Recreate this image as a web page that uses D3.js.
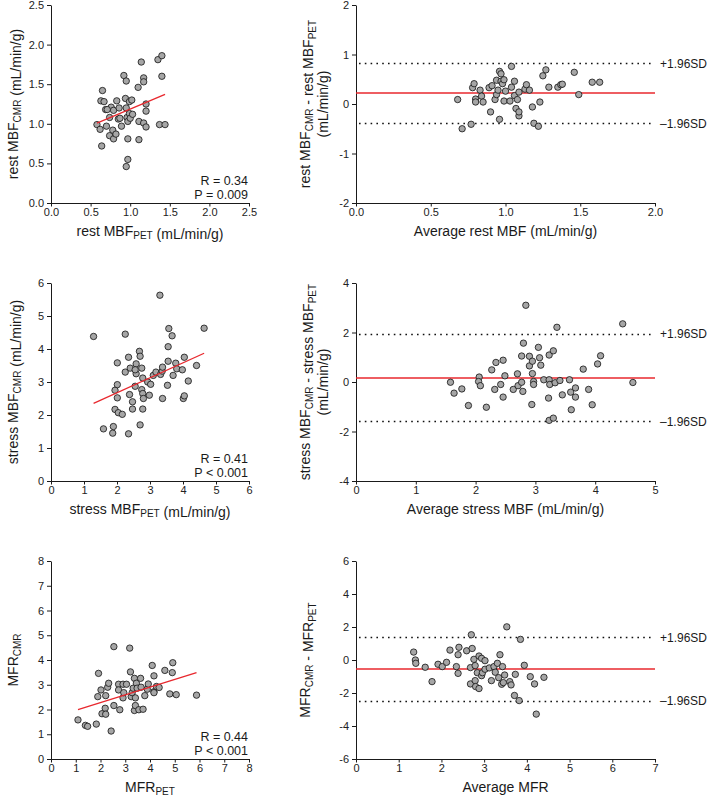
<!DOCTYPE html>
<html>
<head>
<meta charset="utf-8">
<script src="https://cdn.jsdelivr.net/npm/d3@7"></script>
<style>
  html, body { margin: 0; padding: 0; background: #fff; }
  svg { display: block; font-family: "Liberation Sans", Arial, Helvetica, sans-serif; }
</style>
</head>
<body>
<svg id="chart" width="708" height="803"></svg>
<script>
// ---------------- DATA ----------------
// Panel A: rest MBF PET (x) vs CMR (y)
const restPET = [0.58,0.62,0.64,0.65,0.63,0.67,0.69,0.70,0.74,0.74,0.76,0.78,0.79,0.79,0.82,0.83,0.85,0.86,0.87,0.89,0.92,0.94,0.95,0.95,0.96,0.95,0.97,0.97,0.99,0.99,1.02,0.97,1.00,1.03,1.10,1.11,1.11,1.14,1.17,1.17,1.17,1.20,1.20,1.20,1.35,1.40,1.40,1.37,1.44,0.71];
const restCMR = [0.99,0.93,0.72,1.42,1.29,1.28,1.18,0.97,0.85,1.08,1.21,0.92,0.81,1.17,0.87,1.29,1.06,1.20,1.07,0.97,1.61,1.32,1.54,1.20,1.08,0.46,0.55,0.81,1.13,1.28,1.30,1.03,1.07,1.12,1.46,1.03,0.80,1.78,1.58,1.53,1.01,0.96,1.25,1.16,1.81,1.86,1.60,0.99,0.99,1.18];
const restFit = {slope: 0.42, intercept: 0.766, from: 0.58, to: 1.44};
const restStats = ["R = 0.34", "P = 0.009"];

// Panel B: Bland-Altman rest
const restAvg  = [0.68,0.71,0.77,0.78,0.79,0.80,0.80,0.83,0.84,0.85,0.89,0.90,0.91,0.93,0.94,0.94,0.95,0.96,0.96,0.97,0.97,0.98,0.99,0.99,1.00,1.03,1.04,1.04,1.06,1.06,1.07,1.08,1.09,1.09,1.09,1.13,1.14,1.16,1.18,1.19,1.22,1.23,1.25,1.27,1.29,1.35,1.37,1.38,1.46,1.49,1.58,1.63];
const restDiff = [0.09,-0.50,-0.41,0.33,0.41,0.10,0.04,0.28,0.16,0.04,0.33,-0.16,0.37,0.09,0.48,0.19,0.28,0.66,-0.31,0.61,0.46,0.41,0.49,0.06,0.26,0.06,0.76,0.34,0.46,0.17,-0.09,0.09,-0.24,-0.16,0.24,0.30,0.39,0.28,-0.06,-0.39,-0.45,0.04,0.57,0.69,0.34,0.34,0.39,0.40,0.64,0.19,0.44,0.44];
const restBA = {mean: 0.22, upper: 0.82, lower: -0.39};

// Panel C: stress MBF PET (x) vs CMR (y)
const stressPET = [1.29,1.59,1.87,1.89,1.94,1.94,2.01,2.01,2.01,2.04,2.16,2.25,2.25,2.35,2.35,2.38,2.40,2.47,2.47,2.55,2.58,2.58,2.55,2.68,2.70,2.70,2.75,2.75,2.78,2.78,2.80,2.78,2.93,2.98,3.02,3.10,3.18,3.30,3.32,3.37,3.38,3.38,3.53,3.55,3.55,3.57,3.67,3.70,3.78,3.81,3.98,4.01,4.04,4.04,4.16,4.41,4.64];
const stressCMR = [4.38,1.58,1.45,1.65,2.17,2.75,3.58,2.92,2.52,2.07,2.02,4.45,3.30,3.75,1.43,2.62,3.42,2.40,2.18,2.87,3.55,3.25,3.37,3.93,3.78,1.70,3.42,2.77,3.12,2.65,2.50,2.18,3.00,2.60,2.93,3.20,3.30,5.63,3.23,3.33,3.45,2.50,2.90,3.63,4.07,4.62,4.40,3.20,3.57,3.40,3.37,2.50,3.75,2.58,3.03,3.50,4.63];
const stressFit = {slope: 0.454, intercept: 1.764, from: 1.29, to: 4.64};
const stressStats = ["R = 0.41", "P < 0.001"];

// Panel D: Bland-Altman stress
const stressAvg  = [1.58,1.64,1.77,1.88,2.06,2.05,2.08,2.18,2.27,2.32,2.34,2.42,2.46,2.46,2.49,2.63,2.70,2.71,2.77,2.77,2.79,2.80,2.84,2.90,2.90,2.94,2.95,2.95,2.97,2.97,3.05,3.07,3.09,3.14,3.22,3.23,3.23,3.24,3.23,3.30,3.30,3.33,3.36,3.41,3.45,3.57,3.59,3.60,3.67,3.67,3.80,3.89,3.95,4.04,4.09,4.46,4.63];
const stressDiff = [-0.01,-0.45,-0.28,-0.95,0.20,0.02,-0.15,-1.02,0.49,-0.30,0.79,-0.10,0.88,-0.61,0.25,-0.30,0.33,-0.15,1.05,-0.01,-0.38,1.57,3.10,1.04,0.65,-0.91,0.84,0.34,0.02,-0.10,1.40,0.98,0.68,0.09,-0.65,1.09,0.09,-0.10,-1.55,-1.46,1.26,-0.03,2.21,0.06,-0.52,0.09,-0.41,-1.12,-0.24,-0.61,0.52,-0.30,-0.92,0.73,1.06,2.35,-0.02];
const stressBA = {mean: 0.18, upper: 1.94, lower: -1.59};

// Panel E: MFR PET (x) vs CMR (y)
const mfrPET = [1.09,1.39,1.48,1.83,1.89,1.92,2.02,2.06,2.19,2.21,2.21,2.29,2.33,2.43,2.54,2.54,2.73,2.73,2.78,2.91,2.91,2.94,3.05,3.18,3.21,3.24,3.28,3.32,3.37,3.37,3.41,3.41,3.45,3.48,3.55,3.62,3.64,3.72,3.79,3.89,3.93,4.09,4.16,4.16,4.16,4.26,4.37,4.60,4.80,4.90,4.92,5.06,5.88];
const mfrCMR = [1.58,1.36,1.32,1.41,2.52,3.46,2.79,1.83,2.05,1.81,2.56,2.90,3.06,1.13,4.54,2.16,3.02,2.79,1.99,3.02,2.47,2.68,3.02,4.48,3.52,2.52,2.68,2.86,3.26,1.96,2.47,2.16,3.06,2.86,1.99,3.26,2.90,2.01,2.56,2.82,3.03,3.78,2.72,3.36,2.68,2.93,2.89,3.58,2.63,3.49,3.89,2.60,2.58];
const mfrFit = {slope: 0.313, intercept: 1.65, from: 1.09, to: 5.88};
const mfrStats = ["R = 0.44", "P < 0.001"];

// Panel F: Bland-Altman MFR
const mfrAvg  = [1.35,1.39,1.40,1.62,1.78,1.92,2.02,2.12,2.20,2.35,2.39,2.41,2.39,2.59,2.68,2.68,2.70,2.72,2.76,2.79,2.79,2.80,2.84,2.88,2.88,2.94,2.94,2.96,3.02,3.02,3.12,3.17,3.23,3.26,3.31,3.34,3.37,3.41,3.43,3.45,3.48,3.53,3.60,3.63,3.71,3.73,3.82,3.85,3.94,4.08,4.18,4.22,4.40];
const mfrDiff = [0.48,0.00,-0.20,-0.44,-1.31,-0.26,-0.40,-0.14,0.60,-0.40,0.32,0.77,-0.81,0.56,-1.45,-0.46,1.53,0.70,0.04,-0.34,-1.25,-1.61,-0.77,-1.73,0.24,-0.95,0.10,-0.77,-0.04,-0.56,-0.48,-1.25,-0.40,-0.74,-0.20,-1.07,0.32,-1.47,-0.40,-1.37,-0.91,2.01,-1.31,-1.51,-2.15,-0.87,-2.46,1.25,-0.32,-1.01,-1.45,-3.28,-1.05];
const mfrBA = {mean: -0.55, upper: 1.37, lower: -2.48};

// Tick values
const restTicks    = [0, 0.5, 1.0, 1.5, 2.0, 2.5];
const restAvgTicks = [0, 0.5, 1.0, 1.5, 2.0];
const restDiffTicks = [-2, -1, 0, 1, 2];
const stressTicks  = [0, 1, 2, 3, 4, 5, 6];
const stressAvgTicks = [0, 1, 2, 3, 4, 5];
const stressDiffTicks = [-4, -2, 0, 2, 4];
const mfrTicks     = [0, 1, 2, 3, 4, 5, 6, 7, 8];
const mfrAvgTicks  = [0, 1, 2, 3, 4, 5, 6, 7];
const mfrDiffTicks = [-6, -4, -2, 0, 2, 4, 6];
const sdLabels = ["+1.96SD", "\u20131.96SD"];

// ---------------- LAYOUT ----------------
const svg = d3.select("#chart");
const leftX = [51, 249], rightX = [356, 655];
const rowTop = [5, 283, 561], plotH = 198;
const ptFill = "#a6a6a6", red = "#e8282e", ink = "#1a1a1a";

const fmt1 = d => d.toFixed(1);
const fmt0 = d => String(d);
const crisp = v => Math.round(v) + 0.5;

function richText(sel, parts, size, subSize) {
  parts.forEach(p => {
    if (p[1]) {
      sel.append("tspan").attr("font-size", subSize).attr("dy", 3).text(p[0]);
      sel.append("tspan").attr("font-size", size).attr("dy", -3).text("");
    } else {
      sel.append("tspan").attr("font-size", size).text(p[0]);
    }
  });
}

function panel(cfg) {
  const g = svg.append("g");
  const x = d3.scaleLinear().domain(cfg.xDomain).range(cfg.xr);
  const y0 = rowTop[cfg.row], y1 = y0 + plotH;
  const y = d3.scaleLinear().domain(cfg.yDomain).range([y1, y0]);

  const xa = g.append("g").attr("transform", `translate(0,${y1})`)
    .call(d3.axisBottom(x).tickValues(cfg.xTicks).tickFormat(cfg.xFmt).tickSize(3.5).tickPadding(2).tickSizeOuter(0));
  const ya = g.append("g").attr("transform", `translate(${cfg.xr[0]},0)`)
    .call(d3.axisLeft(y).tickValues(cfg.yTicks).tickFormat(cfg.yFmt).tickSize(4).tickPadding(3).tickSizeOuter(0));
  [xa, ya].forEach(a => {
    a.selectAll("path,line").attr("stroke", ink).attr("stroke-width", 1);
    a.selectAll("text").attr("font-size", 11).attr("fill", "#222").attr("font-family", "Liberation Sans, Arial, sans-serif");
  });

  // reference lines (Bland-Altman)
  if (cfg.ba) {
    [cfg.ba.upper, cfg.ba.lower].forEach((v, i) => {
      g.append("line").attr("x1", x(cfg.xDomain[0]) + 3).attr("x2", x(cfg.xDomain[1]) - 2)
        .attr("y1", crisp(y(v))).attr("y2", crisp(y(v)))
        .attr("stroke", "#111").attr("stroke-width", 1.6)
        .attr("stroke-dasharray", "1.6,4.2");
      g.append("text").attr("x", x(cfg.xDomain[1]) + 5).attr("y", y(v))
        .attr("dy", "0.36em").attr("font-size", 12).attr("fill", ink).text(sdLabels[i]);
    });
    g.append("line").attr("x1", x(cfg.xDomain[0])).attr("x2", x(cfg.xDomain[1]))
      .attr("y1", Math.round(y(cfg.ba.mean))).attr("y2", Math.round(y(cfg.ba.mean)))
      .attr("stroke", red).attr("stroke-width", 1.6);
  }

  // points
  g.append("g").selectAll("circle").data(cfg.xs.map((v, i) => [v, cfg.ys[i]]))
    .join("circle")
    .attr("cx", d => x(d[0])).attr("cy", d => y(d[1])).attr("r", 3.2)
    .attr("fill", ptFill).attr("stroke", "#111").attr("stroke-width", 0.8);

  // regression
  if (cfg.fit) {
    const f = cfg.fit;
    g.append("line")
      .attr("x1", x(f.from)).attr("y1", y(f.intercept + f.slope * f.from))
      .attr("x2", x(f.to)).attr("y2", y(f.intercept + f.slope * f.to))
      .attr("stroke", red).attr("stroke-width", 1.3);
  }

  // stats text
  if (cfg.stats) {
    cfg.stats.forEach((s, i) => {
      g.append("text").attr("x", cfg.xr[1] - 1).attr("y", y1 - 18 + i * 14)
        .attr("text-anchor", "end").attr("font-size", 12.5).attr("fill", ink).text(s);
    });
  }

  // x title
  const xt = g.append("text").attr("x", (cfg.xr[0] + cfg.xr[1]) / 2).attr("y", y1 + 33)
    .attr("text-anchor", "middle").attr("fill", ink);
  richText(xt, cfg.xTitle, 14, 10);

  // y title (one or two lines)
  const cy = (y0 + y1) / 2;
  cfg.yTitle.forEach((line, i) => {
    const t = g.append("text")
      .attr("transform", `translate(${cfg.yTitleX + i * 18},${cy}) rotate(-90)`)
      .attr("text-anchor", "middle").attr("fill", ink);
    richText(t, line, 14, 10);
  });
}

panel({row: 0, xr: leftX, xDomain: [0, 2.5], yDomain: [0, 2.5], xTicks: restTicks, yTicks: restTicks,
  xFmt: fmt1, yFmt: fmt1, xs: restPET, ys: restCMR, fit: restFit, stats: restStats,
  xTitle: [["rest MBF"], ["PET", 1], [" (mL/min/g)"]],
  yTitle: [[["rest MBF"], ["CMR", 1], [" (mL/min/g)"]]], yTitleX: 18});

panel({row: 0, xr: rightX, xDomain: [0, 2], yDomain: [-2, 2], xTicks: restAvgTicks, yTicks: restDiffTicks,
  xFmt: fmt1, yFmt: fmt0, xs: restAvg, ys: restDiff, ba: restBA,
  xTitle: [["Average rest MBF (mL/min/g)"]],
  yTitle: [[["rest MBF"], ["CMR", 1], [" - rest MBF"], ["PET", 1]], [["(mL/min/g)"]]], yTitleX: 310});

panel({row: 1, xr: leftX, xDomain: [0, 6], yDomain: [0, 6], xTicks: stressTicks, yTicks: stressTicks,
  xFmt: fmt0, yFmt: fmt0, xs: stressPET, ys: stressCMR, fit: stressFit, stats: stressStats,
  xTitle: [["stress MBF"], ["PET", 1], [" (mL/min/g)"]],
  yTitle: [[["stress MBF"], ["CMR", 1], [" (mL/min/g)"]]], yTitleX: 18});

panel({row: 1, xr: rightX, xDomain: [0, 5], yDomain: [-4, 4], xTicks: stressAvgTicks, yTicks: stressDiffTicks,
  xFmt: fmt0, yFmt: fmt0, xs: stressAvg, ys: stressDiff, ba: stressBA,
  xTitle: [["Average stress MBF (mL/min/g)"]],
  yTitle: [[["stress MBF"], ["CMR", 1], [" - stress MBF"], ["PET", 1]], [["(mL/min/g)"]]], yTitleX: 310});

panel({row: 2, xr: leftX, xDomain: [0, 8], yDomain: [0, 8], xTicks: mfrTicks, yTicks: mfrTicks,
  xFmt: fmt0, yFmt: fmt0, xs: mfrPET, ys: mfrCMR, fit: mfrFit, stats: mfrStats,
  xTitle: [["MFR"], ["PET", 1]],
  yTitle: [[["MFR"], ["CMR", 1]]], yTitleX: 18});

panel({row: 2, xr: rightX, xDomain: [0, 7], yDomain: [-6, 6], xTicks: mfrAvgTicks, yTicks: mfrDiffTicks,
  xFmt: fmt0, yFmt: fmt0, xs: mfrAvg, ys: mfrDiff, ba: mfrBA,
  xTitle: [["Average MFR"]],
  yTitle: [[["MFR"], ["CMR", 1], [" - MFR"], ["PET", 1]]], yTitleX: 310});
</script>
</body>
</html>
